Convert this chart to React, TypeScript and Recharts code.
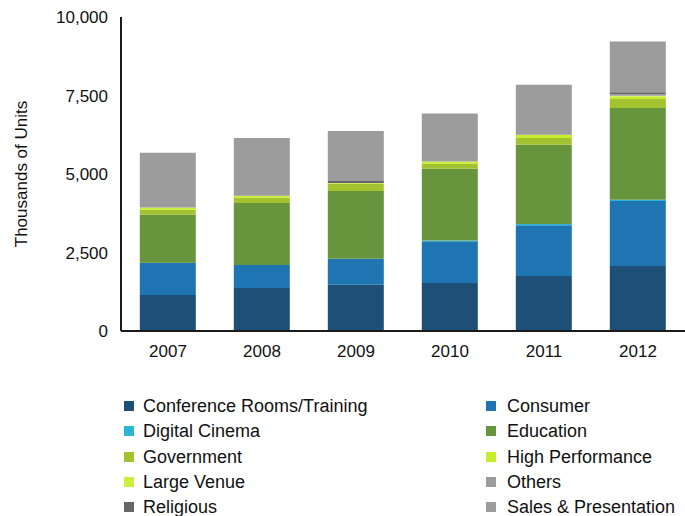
import { BarChart, Bar, XAxis, YAxis } from 'recharts';

const years = ['2007', '2008', '2009', '2010', '2011', '2012'];

const conference = [1150, 1370, 1470, 1530, 1750, 2070];
const consumer = [1020, 730, 830, 1330, 1620, 2070];
const digitalCinema = [0, 0, 0, 20, 40, 40];
const education = [1530, 1980, 2160, 2290, 2520, 2920];
const government = [160, 160, 240, 160, 220, 290];
const highPerformance = [60, 60, 0, 60, 90, 80];
const largeVenue = [10, 10, 10, 10, 10, 20];
const others = [0, 0, 0, 0, 0, 50];
const religious = [0, 0, 70, 0, 0, 60];
const salesPresentation = [1750, 1840, 1590, 1530, 1590, 1620];

const yTicks = [0, 2500, 5000, 7500, 10000];

const series = [
  { key: 'conference', name: 'Conference Rooms/Training', color: '#1d4f77', values: conference },
  { key: 'consumer', name: 'Consumer', color: '#1f74b2', values: consumer },
  { key: 'digitalCinema', name: 'Digital Cinema', color: '#2cb6d5', values: digitalCinema },
  { key: 'education', name: 'Education', color: '#66953d', values: education },
  { key: 'government', name: 'Government', color: '#a2c32f', values: government },
  { key: 'highPerformance', name: 'High Performance', color: '#c6ee2f', values: highPerformance },
  { key: 'largeVenue', name: 'Large Venue', color: '#c8f03c', values: largeVenue },
  { key: 'others', name: 'Others', color: '#9c9c9c', values: others },
  { key: 'religious', name: 'Religious', color: '#666666', values: religious },
  { key: 'salesPresentation', name: 'Sales & Presentation', color: '#9c9c9c', values: salesPresentation },
];

const data = years.map((year, i) => {
  const row: Record<string, string | number> = { year };
  series.forEach((s) => { row[s.key] = s.values[i]; });
  return row;
});

const font = '"Liberation Sans", Arial, sans-serif';

// legend columns: [square left, text left]
const legendCols = [[124, 143], [486, 507]];

export default function App() {
  return (
    <div style={{ position: 'relative', width: 685, height: 516, fontFamily: font, overflow: 'hidden' }}>
      <style>{`body { margin: 0; }`}</style>
      <BarChart
        width={685}
        height={516}
        data={data}
        margin={{ top: 17, right: 0, left: 0, bottom: 155 }}
        barCategoryGap="20%"
      >
        <XAxis
          dataKey="year"
          tickLine={false}
          tickMargin={8}
          axisLine={{ stroke: '#1a1a1a', strokeWidth: 2 }}
          tick={{ fill: '#111', fontSize: 17, fontFamily: font }}
        />
        <YAxis
          width={121}
          domain={[0, 10000]}
          ticks={yTicks}
          tickLine={false}
          tickMargin={7}
          tickFormatter={(v: number) => v.toLocaleString('en-US')}
          axisLine={{ stroke: '#1a1a1a', strokeWidth: 2 }}
          tick={{ fill: '#111', fontSize: 17, fontFamily: font }}
          label={{
            value: 'Thousands of Units',
            angle: -90,
            position: 'center',
            dx: -40,
            style: { fill: '#111', fontSize: 17, fontFamily: font },
          }}
        />
        {series.map((s) => (
          <Bar
            key={s.key}
            dataKey={s.key}
            name={s.name}
            stackId="a"
            fill={s.color}
            isAnimationActive={false}
          />
        ))}
      </BarChart>
      {series.map((s, i) => {
        const [sq, tx] = legendCols[i % 2];
        const cy = 406 + Math.floor(i / 2) * 25.3;
        return (
          <div key={s.key}>
            <span
              style={{ position: 'absolute', left: sq, top: cy - 5, width: 10, height: 10, background: s.color }}
            />
            <span
              style={{
                position: 'absolute',
                left: tx,
                top: cy - 11,
                height: 22,
                lineHeight: '22px',
                fontSize: 18,
                color: '#111',
                whiteSpace: 'nowrap',
              }}
            >
              {s.name}
            </span>
          </div>
        );
      })}
    </div>
  );
}
